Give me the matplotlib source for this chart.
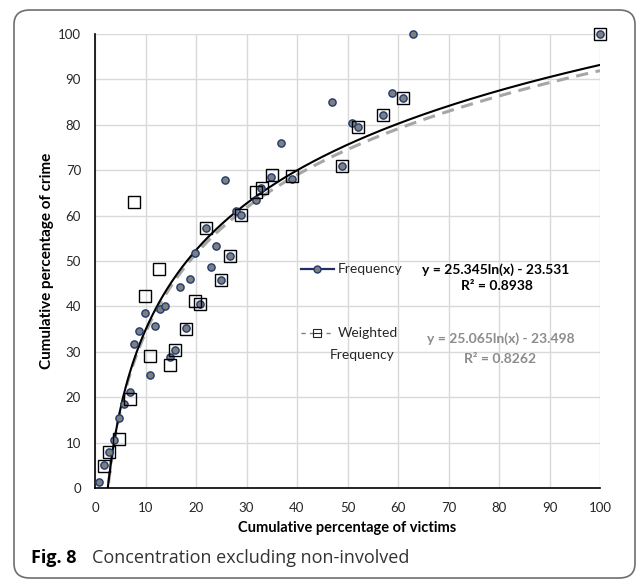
import matplotlib.pyplot as plt
import numpy as np
from matplotlib.patches import FancyBboxPatch
from matplotlib.lines import Line2D

# Frequency series (circles)
freq_x = [0.85, 1.85, 2.8, 3.8, 4.8, 5.8, 6.9, 7.8, 8.8, 9.9, 10.8, 11.9, 12.8, 13.9,
          14.85, 15.8, 16.8, 17.95, 18.8, 19.8, 20.8, 21.9, 22.9, 23.9, 24.9, 25.8,
          26.8, 27.9, 28.85, 31.9, 32.9, 34.9, 36.8, 39.0, 46.9, 49.0, 50.95, 52.0,
          57.1, 58.9, 60.9, 62.9, 100]
freq_y = [1.4, 5.1, 8.0, 10.6, 15.5, 18.4, 21.2, 31.7, 34.6, 38.6, 25.0, 35.7, 39.5, 40.1,
          28.9, 30.4, 44.3, 35.2, 46.1, 51.7, 40.5, 57.3, 48.6, 53.2, 45.9, 67.8,
          51.1, 61.1, 60.1, 63.4, 66.0, 68.6, 76.1, 68.0, 85.0, 71.0, 80.5, 79.5,
          82.2, 87.1, 85.9, 100, 100]

# Weighted frequency series (squares)
wfreq_x = [1.85, 2.8, 4.75, 6.9, 7.8, 9.9, 10.8, 12.7, 14.85, 15.8, 17.95, 19.9, 20.8,
           21.9, 24.9, 26.8, 28.85, 31.8, 33.0, 35.0, 39.0, 49.0, 52.0, 57.1, 60.9, 100]
wfreq_y = [4.8, 8.0, 10.7, 19.5, 63.1, 42.3, 29.1, 48.2, 27.2, 30.4, 35.1, 41.1, 40.5,
           57.3, 45.9, 51.1, 60.1, 65.1, 66.1, 69.0, 68.8, 71.0, 79.5, 82.2, 85.9, 100]

# trendline coefficients as printed on the chart
freq_a, freq_b = 25.345, -23.531
wfreq_a, wfreq_b = 25.065, -23.498
freq_eq = "y = 25.345ln(x) - 23.531"
freq_r2 = "R² = 0.8938"
wfreq_eq = "y = 25.065ln(x) - 23.498"
wfreq_r2 = "R² = 0.8262"

font = ['Lato', 'DejaVu Sans']

fig = plt.figure(figsize=(6.37, 5.81), dpi=100)
ax = fig.add_axes([95 / 637, 1 - 488 / 581, 505 / 637, 454 / 581])

# outer rounded frame
frame = FancyBboxPatch((14 / 637, 1 - 578 / 581), 621 / 637, 568 / 581,
                       boxstyle="round,pad=0,rounding_size=0.025",
                       transform=fig.transFigure, fill=False,
                       edgecolor='#6e6e6e', linewidth=1.2)
fig.patches.append(frame)

tx = np.linspace(0.85, 100, 400)
ax.plot(tx, freq_a * np.log(tx) + freq_b, color='black', lw=1.5, zorder=3)
ax.plot(tx, wfreq_a * np.log(tx) + wfreq_b, color='#a6a6a6', lw=2.2,
        dashes=(4, 2.5), zorder=2)

ax.plot(freq_x, freq_y, 'o', ms=5.2, mfc='#7f7f7f', mec='#1f3a6e', mew=1.0,
        zorder=4, clip_on=False)
ax.plot(wfreq_x, wfreq_y, 's', ms=8.5, mfc='none', mec='black', mew=1.0,
        zorder=5, clip_on=False)

ax.set_xlim(0, 100)
ax.set_ylim(0, 100)
ax.set_xticks(np.arange(0, 101, 10))
ax.set_yticks(np.arange(0, 101, 10))
ax.grid(True, color='#d9d9d9', lw=1.0)
ax.set_axisbelow(True)
for s in ['top', 'right']:
    ax.spines[s].set_visible(False)
ax.spines['left'].set_linewidth(1.2)
ax.spines['bottom'].set_linewidth(1.2)
ax.tick_params(length=0, labelsize=9.5, colors='#262626', pad=10)
for lab in ax.get_xticklabels() + ax.get_yticklabels():
    lab.set_family(font)

ax.set_xlabel("Cumulative percentage of victims", fontsize=10.5, fontweight='bold',
              family=font, labelpad=5)
ax.set_ylabel("Cumulative percentage of crime", fontsize=11, fontweight='bold',
              family=font, labelpad=3)

# legend built by hand, as in the original
ax.add_line(Line2D([0.407, 0.473], [0.482, 0.482], transform=ax.transAxes,
                   color='#1f2f5e', lw=1.6, zorder=6))
ax.plot([0.44], [0.482], 'o', transform=ax.transAxes, ms=5, mfc='#7f7f7f',
        mec='#1f3a6e', zorder=7)
ax.text(0.481, 0.482, "Frequency", transform=ax.transAxes, fontsize=10,
        family=font, va='center', ha='left', color='#262626')
ax.text(0.794, 0.482, freq_eq, transform=ax.transAxes, fontsize=10,
        fontweight='bold', family=font, va='center', ha='center', color='black')
ax.text(0.796, 0.444, freq_r2, transform=ax.transAxes, fontsize=10,
        fontweight='bold', family=font, va='center', ha='center', color='black')

ax.add_line(Line2D([0.407, 0.473], [0.341, 0.341], transform=ax.transAxes,
                   color='#7f7f7f', lw=1.0, dashes=(3, 3), zorder=6))
ax.plot([0.44], [0.341], 's', transform=ax.transAxes, ms=6, mfc='white',
        mec='#262626', mew=0.8, zorder=7)
ax.add_line(Line2D([0.433, 0.447], [0.341, 0.341], transform=ax.transAxes,
                   color='#262626', lw=0.8, zorder=8))
ax.text(0.481, 0.341, "Weighted", transform=ax.transAxes, fontsize=10,
        family=font, va='center', ha='left', color='#262626')
ax.text(0.529, 0.293, "Frequency", transform=ax.transAxes, fontsize=10,
        family=font, va='center', ha='center', color='#262626')
ax.text(0.804, 0.330, wfreq_eq, transform=ax.transAxes, fontsize=10,
        fontweight='bold', family=font, va='center', ha='center', color='#8c8c8c')
ax.text(0.802, 0.284, wfreq_r2, transform=ax.transAxes, fontsize=10,
        fontweight='bold', family=font, va='center', ha='center', color='#8c8c8c')

# caption
fig.text(31 / 637, 1 - 558 / 581, "Fig. 8", fontsize=13, fontweight='bold',
         family=['Open Sans', 'DejaVu Sans'], va='center', ha='left')
fig.text(92 / 637, 1 - 558 / 581, "Concentration excluding non-involved",
         fontsize=13, family=['Open Sans', 'DejaVu Sans'], va='center',
         ha='left', color='#333333')

fig.savefig("out.png", dpi=100)
